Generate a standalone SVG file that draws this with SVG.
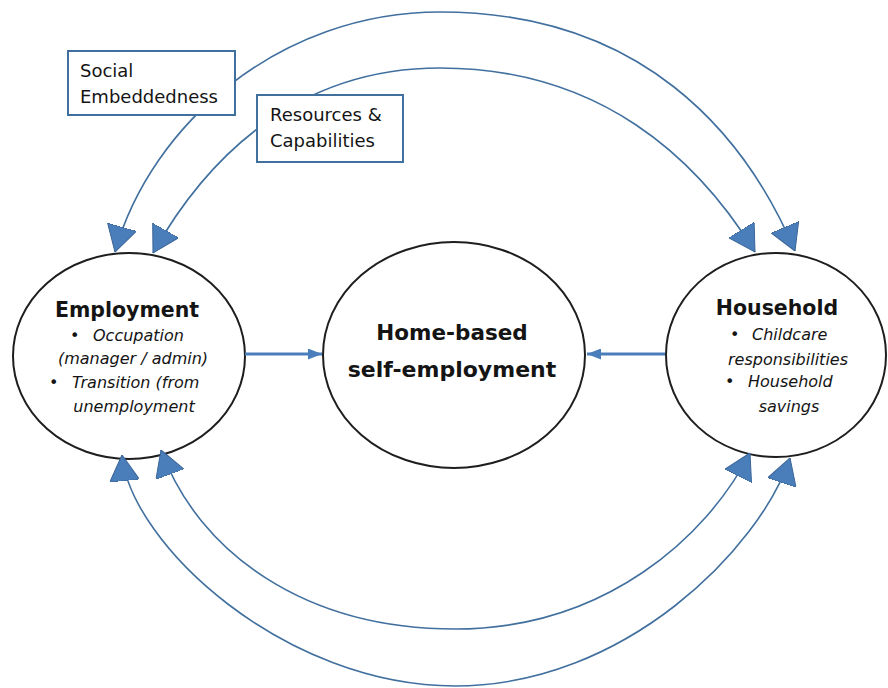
<svg xmlns="http://www.w3.org/2000/svg" width="888" height="688" viewBox="0 0 888 688">
<style>
.node{fill:#fff;stroke:#1e1e1e;stroke-width:2}
.box{fill:#fff;stroke:#41709f;stroke-width:2}
.arc{fill:none;stroke:#41709f;stroke-width:1.6}
.straight{fill:none;stroke:#4a7ebb;stroke-width:3}
.t{font-family:"DejaVu Sans","Liberation Sans",sans-serif;fill:#141414}
.title{font-weight:bold;font-size:20.5px}
.it{font-style:italic;font-size:16px}
.lbl{font-size:18px}
</style>
<defs>
<marker id="bigHead" viewBox="0 0 26 30" refX="26" refY="15" markerWidth="26" markerHeight="30" markerUnits="userSpaceOnUse" orient="auto-start-reverse">
<path d="M0,0 L26,15 L0,30 z" fill="#4a7ebb" stroke="#3a6597" stroke-width="1"/>
</marker>
<marker id="smallHead" viewBox="0 0 14 11" refX="14" refY="5.5" markerWidth="14" markerHeight="11" markerUnits="userSpaceOnUse" orient="auto">
<path d="M0,0 L14,5.5 L0,11 z" fill="#4a7ebb"/>
</marker>
</defs>
<g id="employment">
<ellipse class="node" cx="129" cy="356" rx="116" ry="103"/>
<text class="t title" x="127" y="317" text-anchor="middle">Employment</text>
<text class="t it" x="70" y="341">•</text>
<text class="t it" x="93" y="341">Occupation</text>
<text class="t it" x="133" y="364" text-anchor="middle">(manager / admin)</text>
<text class="t it" x="49" y="388">•</text>
<text class="t it" x="72" y="388">Transition (from</text>
<text class="t it" x="134" y="412" text-anchor="middle">unemployment</text>
</g>
<g id="home-based">
<ellipse class="node" cx="454" cy="355" rx="131" ry="113"/>
<text class="t title" x="452" y="340" text-anchor="middle" style="font-size:21.5px">Home-based</text>
<text class="t title" x="452" y="377" text-anchor="middle" style="font-size:22px">self-employment</text>
</g>
<g id="household">
<ellipse class="node" cx="776" cy="355" rx="110" ry="102"/>
<text class="t title" x="777" y="315" text-anchor="middle">Household</text>
<text class="t it" x="730" y="340">•</text>
<text class="t it" x="752" y="340">Childcare</text>
<text class="t it" x="788" y="365" text-anchor="middle">responsibilities</text>
<text class="t it" x="725" y="387">•</text>
<text class="t it" x="748" y="387">Household</text>
<text class="t it" x="789" y="412" text-anchor="middle">savings</text>
</g>
<g id="connectors">
<path class="arc" d="M115,252 C151,124 280,12 440,12 C640,12 744,131 795,251" marker-start="url(#bigHead)" marker-end="url(#bigHead)"/>
<path class="arc" d="M153,253 C202,166 290,68 440,68 C600,68 697,158 755,252" marker-start="url(#bigHead)" marker-end="url(#bigHead)"/>
<path class="arc" d="M122,455 C131,545 285,686 455,686 C625,686 760,548 790,458" marker-start="url(#bigHead)" marker-end="url(#bigHead)"/>
<path class="arc" d="M161,450 C199,553 305,629 455,629 C605,629 707,537 750,453" marker-start="url(#bigHead)" marker-end="url(#bigHead)"/>
<line class="straight" x1="245" y1="354" x2="322" y2="354" marker-end="url(#smallHead)"/>
<line class="straight" x1="665" y1="354" x2="587" y2="354" marker-end="url(#smallHead)"/>
</g>
<g id="social-embeddedness">
<rect class="box" x="68" y="51" width="167" height="64"/>
<text class="t lbl" x="80" y="77">Social</text>
<text class="t lbl" x="80" y="103">Embeddedness</text>
</g>
<g id="resources-capabilities">
<rect class="box" x="257" y="95" width="146" height="67"/>
<text class="t lbl" x="270" y="121">Resources &amp;</text>
<text class="t lbl" x="270" y="147">Capabilities</text>
</g>
</svg>
